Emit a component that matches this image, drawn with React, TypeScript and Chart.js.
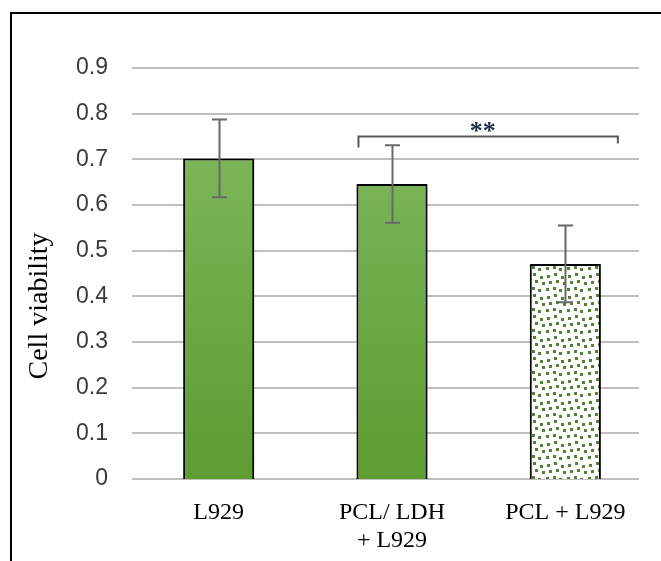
import React, { useEffect, useRef } from 'react';
import { Chart, registerables } from 'chart.js';

Chart.register(...registerables);

const categories: (string | string[])[] = ['L929', ['PCL/ LDH', '+ L929'], 'PCL + L929'];
const viability = [0.702, 0.646, 0.471];
const errorBars = [0.085, 0.085, 0.084];
const yTickValues = [0, 0.1, 0.2, 0.3, 0.4, 0.5, 0.6, 0.7, 0.8, 0.9];
const yTitle = 'Cell viability';
const significanceLabel = '**';
const significancePair = [1, 2];
const significanceLevel = 0.751;

function makePattern(): CanvasPattern | string {
  const c = document.createElement('canvas');
  c.width = 21;
  c.height = 21;
  const g = c.getContext('2d');
  if (!g) return '#ffffff';
  g.fillStyle = '#ffffff';
  g.fillRect(0, 0, 21, 21);
  g.fillStyle = '#538135';
  const sq = [
    [1, 2], [8, 0], [15, 3],
    [3, 8], [10, 7], [17, 9],
    [0, 15], [7, 14], [13, 16],
  ];
  sq.forEach(([x, y]) => g.fillRect(x, y, 3, 3));
  const p = g.createPattern(c, 'repeat');
  return p || '#ffffff';
}

const decorPlugin = {
  id: 'decor',
  beforeDatasetsDraw(chart: any) {
    const { ctx, chartArea, scales } = chart;
    const y = scales.y;
    ctx.save();
    ctx.strokeStyle = '#bfbfbf';
    ctx.lineWidth = 2;
    yTickValues.forEach((v) => {
      const py = Math.round(y.getPixelForValue(v));
      ctx.beginPath();
      ctx.moveTo(chartArea.left, py);
      ctx.lineTo(chartArea.right - 13, py);
      ctx.stroke();
    });
    ctx.restore();
    ctx.save();
    ctx.shadowColor = 'rgba(0,0,0,0.35)';
    ctx.shadowBlur = 6;
    ctx.shadowOffsetX = 2;
    ctx.shadowOffsetY = 1;
  },
  afterDatasetsDraw(chart: any) {
    const { ctx, scales } = chart;
    ctx.restore();
    const y = scales.y;
    const meta = chart.getDatasetMeta(0);
    ctx.save();
    ctx.strokeStyle = '#686868';
    ctx.lineWidth = 2;
    viability.forEach((v, i) => {
      const bar = meta.data[i];
      const x = Math.round(bar.x) + 0.5;
      const top = y.getPixelForValue(v + errorBars[i]);
      const bot = y.getPixelForValue(v - errorBars[i]);
      ctx.beginPath();
      ctx.moveTo(x, top);
      ctx.lineTo(x, bot);
      ctx.moveTo(x - 7.5, top);
      ctx.lineTo(x + 7.5, top);
      ctx.moveTo(x - 7.5, bot);
      ctx.lineTo(x + 7.5, bot);
      ctx.stroke();
    });
    // significance bracket
    const b1 = meta.data[significancePair[0]];
    const b2 = meta.data[significancePair[1]];
    const w = b1.width;
    const by = Math.round(y.getPixelForValue(significanceLevel)) + 0.5;
    const x1 = b1.x - w / 2 + 2;
    const x2 = b2.x + w / 2 + 17;
    ctx.strokeStyle = '#595959';
    ctx.lineWidth = 2;
    ctx.beginPath();
    ctx.moveTo(x1, by + 11);
    ctx.lineTo(x1, by);
    ctx.lineTo(x2, by);
    ctx.lineTo(x2, by + 7);
    ctx.stroke();
    ctx.fillStyle = '#1f2a44';
    ctx.font = 'bold 26px "Liberation Serif", serif';
    ctx.textAlign = 'center';
    ctx.textBaseline = 'alphabetic';
    ctx.fillText(significanceLabel, (b1.x + b2.x) / 2 + 4, by + 2);
    ctx.restore();
  },
  afterDraw(chart: any) {
    const { ctx } = chart;
    ctx.save();
    // y title
    ctx.translate(40, 306);
    ctx.rotate(-Math.PI / 2);
    ctx.fillStyle = '#000000';
    ctx.font = '28px "Liberation Serif", serif';
    ctx.textAlign = 'center';
    ctx.textBaseline = 'middle';
    ctx.fillText(yTitle, 0, 0);
    ctx.restore();
    // frame
    ctx.save();
    ctx.strokeStyle = '#000000';
    ctx.lineWidth = 2;
    ctx.beginPath();
    ctx.moveTo(11, chart.height);
    ctx.lineTo(11, 13);
    ctx.lineTo(chart.width, 13);
    ctx.stroke();
    ctx.restore();
  },
};

export default function App() {
  const ref = useRef<HTMLCanvasElement | null>(null);
  useEffect(() => {
    if (!ref.current) return;
    const pattern = makePattern();
    const chart = new Chart(ref.current, {
      type: 'bar',
      data: {
        labels: categories,
        datasets: [
          {
            data: viability,
            backgroundColor: (c: any) => {
              if (c.dataIndex === 2) return pattern;
              const area = c.chart.chartArea;
              if (!area) return '#6aa843';
              const g = c.chart.ctx.createLinearGradient(0, area.top, 0, area.bottom);
              g.addColorStop(0, '#84bc64');
              g.addColorStop(1, '#5c9c31');
              return g;
            },
            borderColor: '#000000',
            borderWidth: 2,
            barPercentage: 0.41,
            categoryPercentage: 1,
          },
        ],
      },
      options: {
        animation: false,
        responsive: false,
        devicePixelRatio: 1,
        layout: { padding: { top: 68, right: 9, left: 0, bottom: 0 } },
        plugins: { legend: { display: false }, tooltip: { enabled: false } },
        scales: {
          x: {
            grid: { display: false, drawTicks: false },
            border: { display: false },
            ticks: {
              color: '#000000',
              font: { family: '"Liberation Serif", serif', size: 24 },
              padding: 19,
              maxRotation: 0,
              autoSkip: false,
            },
            afterFit: (s: any) => {
              s.height = 82;
            },
          },
          y: {
            min: 0,
            max: 0.9,
            grid: { display: false, drawTicks: false },
            border: { display: false },
            ticks: {
              stepSize: 0.1,
              color: '#3a3a3a',
              font: { family: '"Liberation Sans", Arial, sans-serif', size: 23 },
              padding: 24,
              callback: (v: any) => (Number(v) === 0 ? '0' : Number(v).toFixed(1)),
            },
            afterFit: (s: any) => {
              s.width = 132;
            },
          },
        },
      },
      plugins: [decorPlugin],
    });
    return () => chart.destroy();
  }, []);
  return (
    <div style={{ position: 'fixed', left: 0, top: 0, width: 661, height: 561, background: '#ffffff' }}>
      <canvas ref={ref} width={661} height={561} style={{ width: 661, height: 561, display: 'block' }} />
    </div>
  );
}
